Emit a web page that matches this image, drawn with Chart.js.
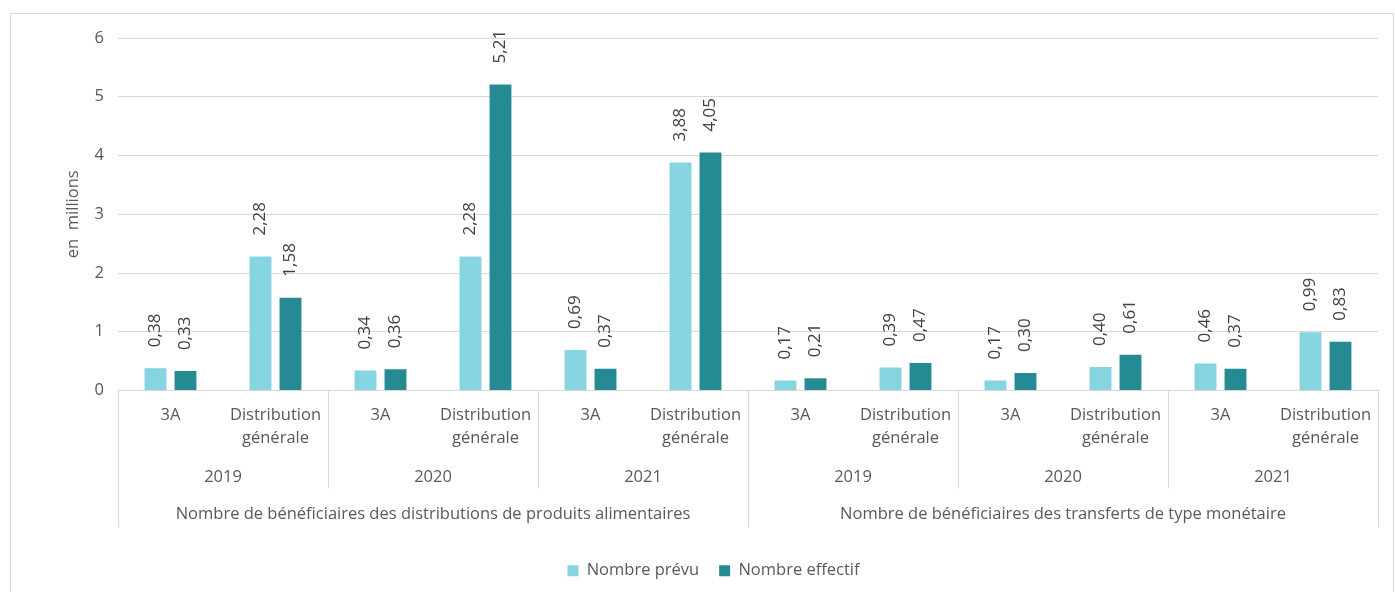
<!DOCTYPE html>
<html><head><meta charset="utf-8">
<script src="https://cdn.jsdelivr.net/npm/chart.js@4"></script>
<style>html,body{margin:0;padding:0;background:#fff;}#wrap{position:absolute;left:0;top:0;width:1395px;height:592px;}</style>
</head><body>
<div id="wrap"><canvas id="c" width="1395" height="592"></canvas></div>
<script>
const categories = [['3A'], ['Distribution','générale'], ['3A'], ['Distribution','générale'], ['3A'], ['Distribution','générale'],
                    ['3A'], ['Distribution','générale'], ['3A'], ['Distribution','générale'], ['3A'], ['Distribution','générale']];
const years = ['2019','2020','2021','2019','2020','2021'];
const groups = ['Nombre de bénéficiaires des distributions de produits alimentaires', 'Nombre de bénéficiaires des transferts de type monétaire'];
const prevu    = [0.38, 2.28, 0.34, 2.28, 0.69, 3.88, 0.17, 0.39, 0.17, 0.40, 0.46, 0.99];
const effectif = [0.33, 1.58, 0.36, 5.21, 0.37, 4.05, 0.21, 0.47, 0.30, 0.61, 0.37, 0.83];
const seriesNames = ['Nombre prévu', 'Nombre effectif'];
const yMax = 6;
const yTitle = 'en  millions';

const FONT = '"Open Sans", sans-serif';
const TXT = '#595959';
const FS = 16.5;

const overlay = {
  id: 'overlay',
  afterDraw(chart) {
    const ctx = chart.ctx, xs = chart.scales.x, area = chart.chartArea;
    ctx.save();
    ctx.strokeStyle = '#d9d9d9'; ctx.lineWidth = 1;
    ctx.strokeRect(10.5, 13.5, 1383, 600);
    const n = categories.length;
    const cw = (xs.getPixelForValue(1) - xs.getPixelForValue(0));
    const bottom = area.bottom;
    ctx.fillStyle = TXT;
    ctx.font = FS + 'px ' + FONT;
    ctx.textAlign = 'center'; ctx.textBaseline = 'middle';
    categories.forEach((lines, i) => {
      const x = xs.getPixelForValue(i);
      lines.forEach((t, k) => ctx.fillText(t, x, bottom + 25 + k * 23));
    });
    years.forEach((y, j) => {
      const x = (xs.getPixelForValue(2*j) + xs.getPixelForValue(2*j+1)) / 2;
      ctx.fillText(y, x, bottom + 87);
    });
    groups.forEach((g, j) => {
      const x = (xs.getPixelForValue(6*j) + xs.getPixelForValue(6*j+5)) / 2;
      ctx.fillText(g, x, bottom + 124);
    });
    ctx.strokeStyle = '#d9d9d9';
    for (let b = 0; b <= n; b += 2) {
      const x = Math.round(xs.getPixelForValue(0) - cw/2 + b*cw) + 0.5;
      const len = (b % 6 === 0) ? 137 : 98;
      ctx.beginPath(); ctx.moveTo(x, bottom); ctx.lineTo(x, bottom + len); ctx.stroke();
    }
    ctx.save();
    ctx.translate(73, (area.top + area.bottom) / 2);
    ctx.rotate(-Math.PI/2);
    ctx.fillText(yTitle, 0, 0);
    ctx.restore();
    ctx.fillStyle = '#404040';
    ctx.font = '17px ' + FONT;
    ctx.textAlign = 'left';
    chart.data.datasets.forEach((ds, di) => {
      chart.getDatasetMeta(di).data.forEach((bar, i) => {
        ctx.save();
        ctx.translate(bar.x, bar.y - 21);
        ctx.rotate(-Math.PI/2);
        ctx.fillText(ds.data[i].toFixed(2).replace('.', ','), 0, 0);
        ctx.restore();
      });
    });
    ctx.restore();
  }
};

new Chart(document.getElementById('c'), {
  type: 'bar',
  data: {
    labels: categories,
    datasets: [
      { label: seriesNames[0], data: prevu, backgroundColor: '#86D4DF' },
      { label: seriesNames[1], data: effectif, backgroundColor: '#268A94' }
    ]
  },
  options: {
    responsive: false, animation: false,
    layout: { padding: { left: 49, right: 17, top: 38, bottom: 3 } },
    categoryPercentage: 0.571, barPercentage: 0.73,
    plugins: {
      tooltip: { enabled: false },
      legend: {
        position: 'bottom',
        labels: { font: { size: FS, family: FONT }, color: TXT, boxWidth: 11, boxHeight: 11, padding: 20 }
      }
    },
    scales: {
      x: {
        ticks: { display: false },
        grid: { display: false },
        border: { display: true, color: '#d9d9d9' },
        afterFit(s) { s.height = 152; }
      },
      y: {
        min: 0, max: yMax,
        ticks: { stepSize: 1, font: { size: FS, family: FONT }, color: TXT, padding: 14 },
        grid: { color: '#d9d9d9', drawTicks: false },
        border: { display: false },
        afterFit(s) { s.width = 69; }
      }
    }
  },
  plugins: [overlay]
});
</script>
</body></html>
